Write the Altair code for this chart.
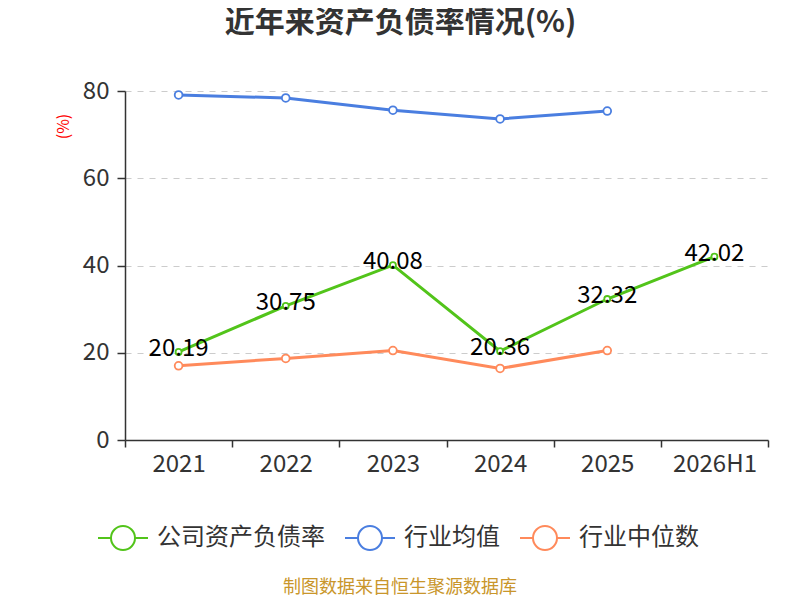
import altair as alt
import pandas as pd

years = ["2021", "2022", "2023", "2024", "2025", "2026H1"]
company = [20.19, 30.75, 40.08, 20.36, 32.32, 42.02]
industry_mean = [79.1, 78.4, 75.6, 73.6, 75.4, None]
industry_median = [17.0, 18.7, 20.5, 16.4, 20.5, None]
series_names = ["公司资产负债率", "行业均值", "行业中位数"]
colors = ["#52c41a", "#4a7ee0", "#ff8a5b"]
title_text = "近年来资产负债率情况(%)"
footer_text = "制图数据来自恒生聚源数据库"

rows = []
for name, vals in zip(series_names, [company, industry_mean, industry_median]):
    for yr, v in zip(years, vals):
        if v is not None:
            rows.append({"year": yr, "series": name, "value": v})
df = pd.DataFrame(rows)

font = "Noto Sans CJK SC"
sym = "M-1,0L-0.48,0M0.48,0L1,0M0.48,0A0.48,0.48,0,1,1,-0.48,0A0.48,0.48,0,1,1,0.48,0Z"

x = alt.X(
    "year:N", sort=years,
    scale=alt.Scale(type="band", paddingInner=0, paddingOuter=0),
    axis=alt.Axis(title=None, labelAngle=0, tickBand="extent", labelFontSize=24,
                  labelColor="#333", labelFont=font, domainColor="#333", tickColor="#333",
                  tickSize=7, domainWidth=1.5, tickWidth=1.5, labelPadding=5, grid=False),
)
y = alt.Y(
    "value:Q", scale=alt.Scale(domain=[0, 80], nice=False),
    axis=alt.Axis(values=[0, 20, 40, 60, 80], title="(%)", titleColor="red", titleFontSize=16,
                  titleFontWeight="normal", titleFont=font, titleAngle=270, titleX=-62, titleY=35,
                  titleAlign="center", titleBaseline="middle", labelFontSize=24, labelColor="#333",
                  labelFont=font, gridDash=[6, 6], gridColor="#cccccc", gridWidth=1.2, tickSize=8,
                  tickColor="#333", tickWidth=1.5, domainWidth=1.5, labelPadding=8, domainColor="#333"),
)
color = alt.Color(
    "series:N", sort=series_names,
    scale=alt.Scale(domain=series_names, range=colors),
    legend=alt.Legend(orient="none", legendX=-28, legendY=421, direction="horizontal", title=None,
                      symbolType=sym, symbolSize=2500, symbolStrokeWidth=2, symbolFillColor="white",
                      labelFontSize=24, labelColor="#333", labelFont=font, labelOffset=8,
                      labelLimit=400, columnPadding=16, padding=0),
)

base = alt.Chart(df)
lines = base.mark_line(strokeWidth=3).encode(x=x, y=y, color=color)
points = base.mark_point(filled=False, fill="white", opacity=1, strokeWidth=1.8).encode(
    x=x, y=y, color=color,
    size=alt.condition(alt.datum.series == series_names[0], alt.value(36), alt.value(60)),
)
labels = base.transform_filter(alt.datum.series == series_names[0]).mark_text(
    fontSize=24, font=font, baseline="middle", dy=-3, color="black"
).encode(x=x, y=y, text=alt.Text("value:Q", format=".2f"))

footer = alt.Chart(pd.DataFrame({"t": [footer_text]})).mark_text(
    fontSize=18, font=font, color="#c9962b"
).encode(text="t:N", x=alt.value(275), y=alt.value(497))

chart = alt.layer(lines, points, labels, footer).properties(
    width=643, height=349,
    padding={"left": 117, "top": 83, "right": 24, "bottom": 160},
    autosize=alt.AutoSizeParams(type="none"),
    title=alt.Title(title_text, fontSize=30, fontWeight="bold", color="#333", font=font,
                    anchor="middle", dx=-46, offset=41),
).configure_view(stroke=None)

chart.save("out.html", embed_options={"renderer": "svg", "actions": False})
